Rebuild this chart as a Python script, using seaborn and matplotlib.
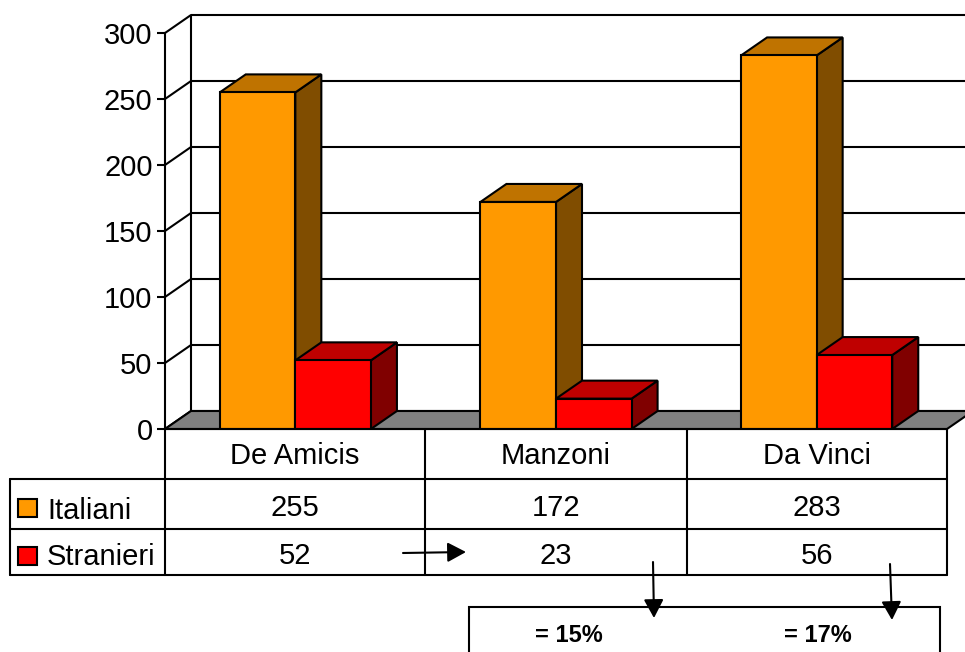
import matplotlib
matplotlib.use('Agg')
import matplotlib.pyplot as plt
from matplotlib.patches import Polygon, Rectangle
import seaborn as sns
import pandas as pd

scuole = ['De Amicis', 'Manzoni', 'Da Vinci']
italiani = [255, 172, 283]
stranieri = [52, 23, 56]
percentuali = ['= 15%', '= 17%']
y_ticks = [0, 50, 100, 150, 200, 250, 300]

colori = {'Italiani': '#FF9900', 'Stranieri': '#FF0000'}
colori_lato = {'Italiani': '#804D00', 'Stranieri': '#800000'}
colori_top = {'Italiani': '#BF7300', 'Stranieri': '#BF0000'}

df = pd.DataFrame({
    'scuola': scuole * 2,
    'gruppo': ['Italiani'] * 3 + ['Stranieri'] * 3,
    'n': italiani + stranieri,
})

sns.set_style('white')
plt.rcParams['font.family'] = ['Liberation Sans', 'DejaVu Sans']

W, H = 965, 652
LW = 1.5
FS = 21
fig = plt.figure(figsize=(W / 100, H / 100), dpi=100)

# main axes: the front plane of the fake 3D chart
ax = fig.add_axes([165 / W, 1 - 429 / H, 782 / W, 396 / H])
sns.barplot(data=df, x='scuola', y='n', hue='gruppo', palette=colori, order=scuole,
            width=0.58, gap=0, saturation=1, edgecolor='black', linewidth=LW,
            legend=False, ax=ax)
ax.set_xlim(-0.5, 2.5)
ax.set_ylim(0, 300)
ax.set_xlabel('')
ax.set_ylabel('')
ax.set_xticks([])
ax.set_yticks(y_ticks)
ax.patch.set_alpha(0)
ax.tick_params(axis='y', left=True, length=6, width=LW, pad=3, labelsize=FS, color='black', labelcolor='black')
sns.despine(ax=ax, top=True, right=True, bottom=True)
ax.spines['left'].set_linewidth(LW)
ax.spines['left'].set_color('black')

# depth of the 3D effect, in data units
dx = 26 / 260.7
dy = 18 / 1.32

# back wall, side wall, floor
ax.hlines([t + dy for t in y_ticks], -0.5 + dx, 2.7, color='black', lw=LW, zorder=0.5, clip_on=False)
ax.vlines(-0.5 + dx, dy, 300 + dy, color='black', lw=LW, zorder=0.5, clip_on=False)
for t in y_ticks:
    ax.plot([-0.5, -0.5 + dx], [t, t + dy], color='black', lw=LW, zorder=0.5, clip_on=False)
ax.add_patch(Polygon([(-0.5, 0), (-0.5 + dx, dy), (2.5 + dx, dy), (2.5, 0)], closed=True,
                     facecolor='#808080', edgecolor='black', lw=LW, zorder=0.6, clip_on=False))

# side and top faces of the bars
gruppi = ['Italiani'] * 3 + ['Stranieri'] * 3
barre = [p for p in ax.patches if isinstance(p, Rectangle) and p.get_height() > 0][:6]
for p, g in zip(barre, gruppi):
    z = 3 if g == 'Italiani' else 5
    x0, w, h = p.get_x(), p.get_width(), p.get_height()
    x1 = x0 + w
    p.set_zorder(z + 1)
    ax.add_patch(Polygon([(x1, 0), (x1 + dx, dy), (x1 + dx, h + dy), (x1, h)], closed=True,
                         facecolor=colori_lato[g], edgecolor='black', lw=LW, zorder=z, clip_on=False))
    ax.add_patch(Polygon([(x0, h), (x0 + dx, h + dy), (x1 + dx, h + dy), (x1, h)], closed=True,
                         facecolor=colori_top[g], edgecolor='black', lw=LW, zorder=z, clip_on=False))

# overlay in pixel coords for the data table, arrows and note box
ov = fig.add_axes([0, 0, 1, 1], zorder=10)
ov.set_xlim(0, W)
ov.set_ylim(H, 0)
ov.axis('off')
ov.patch.set_alpha(0)

col = [165, 425, 687, 947]
righe = [429, 479, 529, 574.5]
ov.plot([165, 947], [righe[0], righe[0]], color='black', lw=LW)
for y in righe[1:]:
    ov.plot([10, 947], [y, y], color='black', lw=LW)
for x in col:
    ov.plot([x, x], [righe[0], righe[3]], color='black', lw=LW)
ov.plot([10, 10], [righe[1], righe[3]], color='black', lw=LW)

for i, s in enumerate(scuole):
    cx = (col[i] + col[i + 1]) / 2
    ov.text(cx, 456, s, ha='center', va='center', fontsize=FS, color='black')
    ov.text(cx, 508, str(italiani[i]), ha='center', va='center', fontsize=FS, color='black')
    ov.text(cx, 556, str(stranieri[i]), ha='center', va='center', fontsize=FS, color='black')

ov.add_patch(Rectangle((18, 499), 19, 18, facecolor=colori['Italiani'], edgecolor='black', lw=LW))
ov.add_patch(Rectangle((18, 547), 19, 18, facecolor=colori['Stranieri'], edgecolor='black', lw=LW))
ov.text(47, 511, 'Italiani', ha='left', va='center', fontsize=FS, color='black')
ov.text(47, 557, 'Stranieri', ha='left', va='center', fontsize=FS, color='black')

ov.add_patch(Rectangle((468.5, 606.5), 471, 60, facecolor='white', edgecolor='black', lw=LW, zorder=1))
ov.text(569, 635, percentuali[0], ha='center', va='center', fontsize=17, fontweight='bold', color='black', zorder=2)
ov.text(818, 635, percentuali[1], ha='center', va='center', fontsize=17, fontweight='bold', color='black', zorder=2)

frecce = [((403, 553), (466, 552)), ((653, 562), (654, 618)), ((890, 564), (892, 620))]
for start, end in frecce:
    ov.annotate('', xy=end, xytext=start, zorder=3,
                arrowprops=dict(arrowstyle='-|>,head_length=0.75,head_width=0.4', mutation_scale=15,
                                color='black', lw=LW, shrinkA=0, shrinkB=0))

fig.savefig('out.png', dpi=100)
